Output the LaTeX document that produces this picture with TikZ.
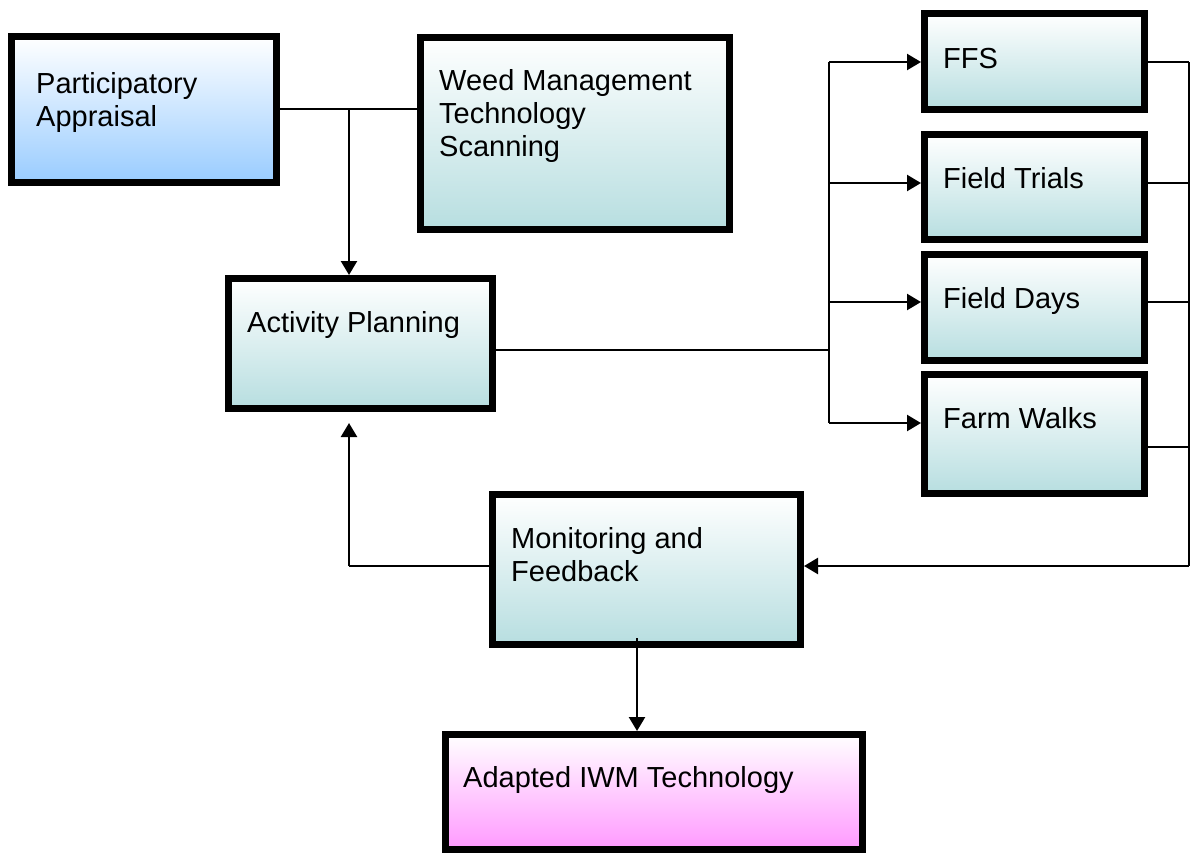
\documentclass[tikz,border=0pt]{standalone}
\usepackage{fontspec}
\setmainfont{Liberation Sans}
\usetikzlibrary{arrows.meta}
\definecolor{tealfill}{RGB}{183,222,224}
\definecolor{bluefill}{RGB}{153,204,255}
\definecolor{pinkfill}{RGB}{255,153,255}
\tikzset{
  stagebox/.style={draw=black, line width=7pt, inner sep=0pt, top color=white, bottom color=#1},
  stagebox/.default=tealfill,
  boxtext/.style={anchor=base west, align=left, inner sep=0pt, font=\fontsize{29}{33}\selectfont},
  link/.style={line width=2.4pt},
  arrowlink/.style={link, -{Triangle[length=14pt,width=16pt]}},
}
\begin{document}
\begin{tikzpicture}[x=1pt,y=-1pt]
\useasboundingbox (0,0) rectangle (1190,854);

% stage boxes
\node[stagebox=bluefill, minimum width=265pt, minimum height=146pt] (pa) at (144,109.5) {};
\node[stagebox, minimum width=309pt, minimum height=192pt] (wm) at (575,133.5) {};
\node[stagebox, minimum width=264pt, minimum height=130pt] (ap) at (360.5,343.5) {};
\node[stagebox, minimum width=220pt, minimum height=96pt] (ffs) at (1034.5,61.5) {};
\node[stagebox, minimum width=220pt, minimum height=105pt] (ft) at (1034.5,187) {};
\node[stagebox, minimum width=220pt, minimum height=106pt] (fd) at (1034.5,307.5) {};
\node[stagebox, minimum width=220pt, minimum height=119pt] (fw) at (1034.5,434) {};
\node[stagebox, minimum width=308pt, minimum height=150pt] (mf) at (646.5,569.5) {};
\node[stagebox=pinkfill, minimum width=417pt, minimum height=115pt] (ait) at (654,792) {};

% box captions (anchored on the baseline of their last line)
\node[boxtext] (pa-t) at (36,126) {Participatory\\Appraisal};
\node[boxtext] (wm-t) at (439,156) {Weed Management\\Technology\\Scanning};
\node[boxtext] (ap-t) at (247,332) {Activity Planning};
\node[boxtext] (ffs-t) at (943,68) {FFS};
\node[boxtext] (ft-t) at (943,188) {Field Trials};
\node[boxtext] (fd-t) at (943,308) {Field Days};
\node[boxtext] (fw-t) at (943,428) {Farm Walks};
\node[boxtext] (mf-t) at (511,581) {Monitoring and\\Feedback};
\node[boxtext] (ait-t) at (463,787) {Adapted IWM Technology};

% appraisal and scanning feed the planning step
\coordinate (split) at (349,109);
\draw[link] (pa.east |- split) -- (wm.west |- split);
\draw[arrowlink] (split) -- (split |- ap.north);

% planning fans out to the field activities
\coordinate (lbus) at (829,350);
\coordinate (ffs-in) at (829,62);
\coordinate (ft-in) at (829,183);
\coordinate (fd-in) at (829,302);
\coordinate (fw-in) at (829,423);
\draw[link] (ap.east |- lbus) -- (lbus);
\draw[link] (ffs-in) -- (fw-in);
\draw[arrowlink] (ffs-in) -- (ffs-in -| ffs.west);
\draw[arrowlink] (ft-in) -- (ft-in -| ft.west);
\draw[arrowlink] (fd-in) -- (fd-in -| fd.west);
\draw[arrowlink] (fw-in) -- (fw-in -| fw.west);

% field activities report back to monitoring
\coordinate (ffs-out) at (1189,62);
\coordinate (ft-out) at (1189,183);
\coordinate (fd-out) at (1189,302);
\coordinate (fw-out) at (1189,447);
\coordinate (rbus) at (1189,566);
\draw[link] (ffs.east |- ffs-out) -- (ffs-out);
\draw[link] (ft.east |- ft-out) -- (ft-out);
\draw[link] (fd.east |- fd-out) -- (fd-out);
\draw[link] (fw.east |- fw-out) -- (fw-out);
\draw[link] (ffs-out) -- (rbus);
\draw[arrowlink] (rbus) -- (rbus -| mf.east);

% feedback loop to planning
\coordinate (fb) at (349,566);
\draw[link] (mf.west |- fb) -- (fb);
\draw[arrowlink, shorten >=11pt] (fb) -- (fb |- ap.south);

% outcome
\coordinate (down) at (637,638);
\draw[arrowlink] (down) -- (down |- ait.north);
\end{tikzpicture}
\end{document}
